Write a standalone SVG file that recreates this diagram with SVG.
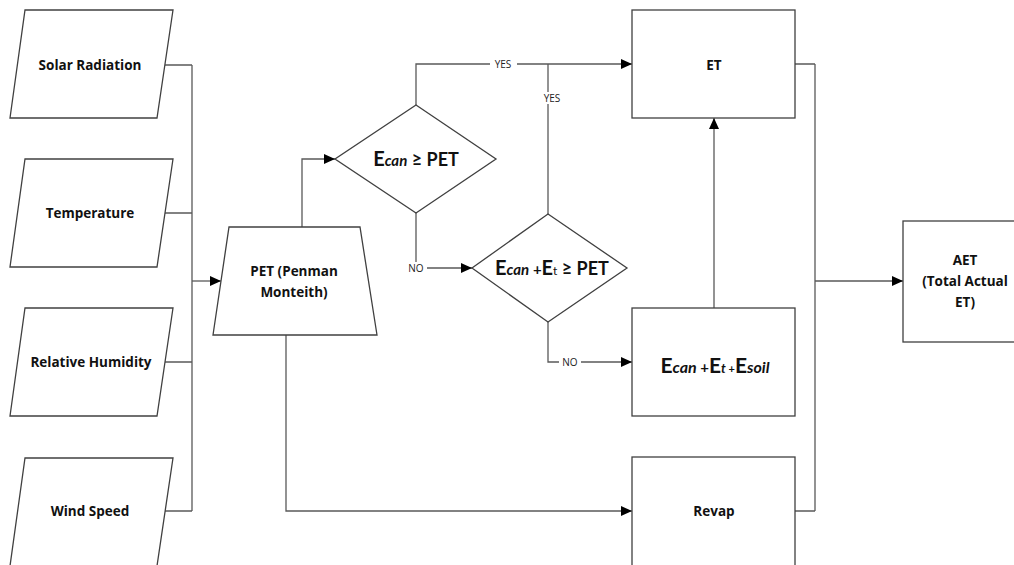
<svg xmlns="http://www.w3.org/2000/svg" width="1014" height="565" viewBox="0 0 1014 565">
<style>
.shape{fill:#fff;stroke:#404040;stroke-width:1.3}
.conn{fill:none;stroke:#595959;stroke-width:1.3}
.t{font-family:"Open Sans",Lato,"Liberation Sans",sans-serif;font-weight:bold;font-size:13.5px;fill:#111;text-anchor:middle}
.f{font-family:Lato,"Open Sans","Liberation Sans",sans-serif;font-weight:bold;fill:#111;text-anchor:middle}
.lbl{font-family:"Open Sans","Liberation Sans",sans-serif;font-size:10px;fill:#222;text-anchor:middle}
.lb{fill:#fff}
</style>
<defs>
<marker id="arr" markerUnits="userSpaceOnUse" markerWidth="12" markerHeight="10" refX="11" refY="5" orient="auto">
<path d="M0,0 L11,5 L0,10 Z" fill="#000"/>
</marker>
</defs>
<rect width="1014" height="565" fill="#fff"/>
<g id="connectors">
<path class="conn" d="M165,65 H192 M165,213 H192 M165,362 H192 M157,511 H192 M192,65 V511"/>
<path class="conn" d="M192,281 H221" marker-end="url(#arr)"/>
<path class="conn" d="M302,227 V159 H335" marker-end="url(#arr)"/>
<path class="conn" d="M416,105 V64 H632" marker-end="url(#arr)"/>
<path class="conn" d="M548,214 V64"/>
<path class="conn" d="M416,213 V268 H472" marker-end="url(#arr)"/>
<path class="conn" d="M548,322 V362 H632" marker-end="url(#arr)"/>
<path class="conn" d="M714,308 V118" marker-end="url(#arr)"/>
<path class="conn" d="M286,335 V511 H632" marker-end="url(#arr)"/>
<path class="conn" d="M795,64 H815 M795,511 H815 M815,64 V511"/>
<path class="conn" d="M815,281 H903" marker-end="url(#arr)"/>
<rect class="lb" x="490" y="58" width="27" height="12"/>
<text class="lbl" x="503" y="68">YES</text>
<rect class="lb" x="539" y="92" width="27" height="12"/>
<text class="lbl" x="552" y="102">YES</text>
<rect class="lb" x="405" y="262" width="22" height="12"/>
<text class="lbl" x="416" y="272">NO</text>
<rect class="lb" x="559" y="356" width="22" height="12"/>
<text class="lbl" x="570" y="366">NO</text>
</g>
<g id="solar">
<polygon class="shape" points="25,10 173,10 157,118 10,118"/>
<text class="t" x="90" y="70">Solar Radiation</text>
</g>
<g id="temperature">
<polygon class="shape" points="25,159 173,159 157,267 10,267"/>
<text class="t" x="90" y="218">Temperature</text>
</g>
<g id="humidity">
<polygon class="shape" points="25,308 173,308 157,416 10,416"/>
<text class="t" x="91" y="367">Relative Humidity</text>
</g>
<g id="wind">
<polygon class="shape" points="25,458 173,458 157,566 10,566"/>
<text class="t" x="90" y="516">Wind Speed</text>
</g>
<g id="pet">
<polygon class="shape" points="229,227 360,227 377,335 213,335"/>
<text class="t" x="294" y="276">PET (Penman</text>
<text class="t" x="294" y="297">Monteith)</text>
</g>
<g id="decision1">
<polygon class="shape" points="416,105 496,159 416,213 335,159"/>
<text class="f" x="416" y="166"><tspan font-size="20">E</tspan><tspan font-size="15" font-style="italic">can</tspan><tspan font-size="18"> ≥ PET</tspan></text>
</g>
<g id="decision2">
<polygon class="shape" points="548,214 627,268 548,322 472,268"/>
<text class="f" x="552" y="275"><tspan font-size="20">E</tspan><tspan font-size="15" font-style="italic">can</tspan><tspan font-size="15"> +</tspan><tspan font-size="20">E</tspan><tspan font-size="12" font-weight="normal">t</tspan><tspan font-size="18">  ≥ PET</tspan></text>
</g>
<g id="et">
<rect class="shape" x="632" y="10" width="163" height="108"/>
<text class="t" x="714" y="70">ET</text>
</g>
<g id="esum">
<rect class="shape" x="632" y="308" width="163" height="108"/>
<text class="f" x="715" y="373"><tspan font-size="21">E</tspan><tspan font-size="16" font-style="italic">can</tspan><tspan font-size="15"> +</tspan><tspan font-size="21">E</tspan><tspan font-size="13" font-style="italic">t</tspan><tspan font-size="11"> +</tspan><tspan font-size="21">E</tspan><tspan font-size="16" font-style="italic">soil</tspan></text>
</g>
<g id="revap">
<rect class="shape" x="632" y="457" width="163" height="120"/>
<text class="t" x="714" y="516">Revap</text>
</g>
<g id="aet">
<rect class="shape" x="903" y="221" width="124" height="121"/>
<text class="t" x="965" y="265">AET</text>
<text class="t" x="965" y="286">(Total Actual</text>
<text class="t" x="965" y="307">ET)</text>
</g>
</svg>
